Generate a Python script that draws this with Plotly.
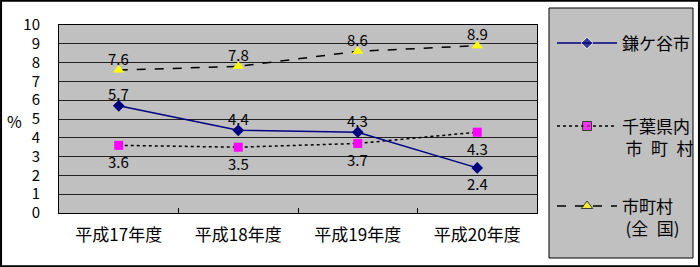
import plotly.graph_objects as go

categories = ["平成17年度", "平成18年度", "平成19年度", "平成20年度"]
kamagaya = [5.7, 4.4, 4.3, 2.4]
chiba = [3.6, 3.5, 3.7, 4.3]
national = [7.6, 7.8, 8.6, 8.9]
y_ticks = list(range(0, 11))

# label placement per series: +1 above, -1 below
kamagaya_pos = [1, 1, 1, -1]
chiba_pos = [-1, -1, -1, -1]
national_pos = [1, 1, 1, 1]

FONT = "Noto Sans CJK JP"
W, H = 700, 267

def px_x(p):
    return p / W

def px_y(p):
    return (H - p) / H

fig = go.Figure()

fig.add_trace(go.Scatter(
    x=categories, y=national, mode="lines+markers",
    line=dict(color="black", width=1.5, dash="dash"),
    marker=dict(symbol="triangle-up", size=10, color="#FFFF00"),
    showlegend=False, cliponaxis=False))

fig.add_trace(go.Scatter(
    x=categories, y=chiba, mode="lines+markers",
    line=dict(color="black", width=1.5, dash="dot"),
    marker=dict(symbol="square", size=9, color="#FF00FF"),
    showlegend=False, cliponaxis=False))

fig.add_trace(go.Scatter(
    x=categories, y=kamagaya, mode="lines+markers",
    line=dict(color="#000080", width=1.5),
    marker=dict(symbol="diamond", size=9, color="#000080"),
    showlegend=False, cliponaxis=False))

annotations = []
for vals, pos in ((national, national_pos), (chiba, chiba_pos), (kamagaya, kamagaya_pos)):
    for c, v, p in zip(categories, vals, pos):
        annotations.append(dict(x=c, y=v, xref="x", yref="y", text=f"{v:.1f}",
                                showarrow=False, xanchor="center", yanchor="middle",
                                yshift=12 if p > 0 else -16,
                                font=dict(family=FONT, size=15, color="black")))

# custom legend samples (pixel coordinates on hidden axes)
leg_x = [557, 587, 617]
samples = [
    (43, dict(color="#000080", width=1.5), dict(symbol="diamond", color="#000080", size=[0, 9, 0])),
    (126, dict(color="black", width=1.5, dash="dot"), dict(symbol="square", color="#FF00FF", size=[0, 9, 0])),
    (206, dict(color="black", width=1.5, dash="dash"), dict(symbol="triangle-up", color="#FFFF00", size=[0, 10, 0])),
]
for yy, ln, mk in samples:
    fig.add_trace(go.Scatter(x=leg_x, y=[yy] * 3, mode="lines+markers",
                             line=ln, marker=mk, xaxis="x2", yaxis="y2",
                             showlegend=False, hoverinfo="skip"))

leg_texts = [
    (620, 43, "鎌ケ谷市"),
    (620, 136, "千葉県内<br>\u2009市\u2002町\u2002村"),
    (620, 216, "市町村<br>\u2009(全\u2002国)"),
]
for xx, yy, t in leg_texts:
    annotations.append(dict(x=xx, y=yy, xref="x2", yref="y2", text=t,
                            showarrow=False, xanchor="left", yanchor="middle",
                            align="left",
                            font=dict(family=FONT, size=17, color="black")))

annotations.append(dict(x=px_x(14), y=px_y(121), xref="paper", yref="paper",
                        text="%", showarrow=False, xanchor="center", yanchor="middle",
                        font=dict(family=FONT, size=16, color="black")))

shapes = [
    dict(type="rect", xref="paper", yref="paper", x0=0.0015, x1=0.9985,
         y0=0.003, y1=0.997, line=dict(color="black", width=2)),
    dict(type="rect", xref="paper", yref="paper", x0=px_x(549), x1=px_x(693),
         y0=px_y(258), y1=px_y(8), line=dict(color="black", width=1)),
]

fig.update_layout(
    width=W, height=H,
    margin=dict(l=0, r=0, t=0, b=0),
    paper_bgcolor="white", plot_bgcolor="#C0C0C0",
    font=dict(family=FONT, size=15, color="black"),
    xaxis=dict(domain=[px_x(59), px_x(537)], type="category",
               categoryorder="array", categoryarray=categories,
               range=[-0.5, 3.5], tickson="boundaries", ticks="inside",
               ticklen=5, tickcolor="black", showgrid=False,
               showline=True, mirror=True, linecolor="black", linewidth=1,
               tickfont=dict(family=FONT, size=17), ticklabelstandoff=7,
               automargin=False, fixedrange=True),
    yaxis=dict(domain=[px_y(213), px_y(25)], range=[0, 10],
               tickvals=y_ticks, ticktext=[str(v) for v in y_ticks],
               showgrid=True, gridcolor="#222222", gridwidth=1,
               showline=True, mirror=True, linecolor="black", linewidth=1,
               zeroline=False, ticks="", tickfont=dict(family=FONT, size=15),
               ticklabelstandoff=15, automargin=False),
    xaxis2=dict(domain=[px_x(549), px_x(693)], range=[549, 693], anchor="y2",
                visible=False, fixedrange=True),
    yaxis2=dict(domain=[px_y(258), px_y(8)], range=[258, 8], anchor="x2",
                visible=False, fixedrange=True),
    annotations=annotations, shapes=shapes,
)

fig.write_html("out.html")
